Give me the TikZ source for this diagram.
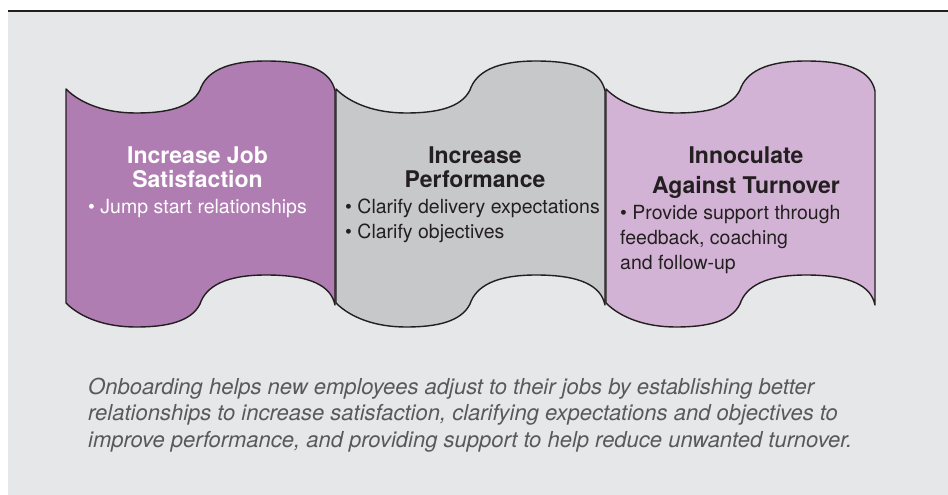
\documentclass[tikz,border=0pt]{standalone}
\usepackage{fontspec}
\setmainfont{TeX Gyre Heros}
\usetikzlibrary{positioning}

\definecolor{bggray}{RGB}{230,231,232}
\definecolor{inkdark}{RGB}{35,31,32}
\definecolor{jobpurple}{RGB}{176,125,178}
\definecolor{perfgray}{RGB}{199,200,202}
\definecolor{turnlilac}{RGB}{211,179,213}
\definecolor{captgray}{RGB}{88,89,91}

% one wavy banner, left edge at x=0
\newcommand{\bannerpath}{(0,89) .. controls (15,104) and (40,113) .. (70,113)
  .. controls (100,113) and (125,108) .. (134,90)
  .. controls (140,72) and (160,61) .. (200,61)
  .. controls (245,61) and (265,72) .. (269,91)
  -- (269,305)
  .. controls (265,286) and (245,275) .. (200,275)
  .. controls (160,275) and (140,286) .. (134,304)
  .. controls (125,322) and (100,327) .. (70,327)
  .. controls (40,327) and (15,318) .. (0,303) -- cycle}

\begin{document}
\begin{tikzpicture}[x=1pt,y=-1pt,
    banner/.style={draw=inkdark,line width=1.4pt,line join=round},
    headtext/.style={font=\fontsize{23}{24}\selectfont\bfseries,align=center,inner sep=0pt},
    bodytext/.style={font=\fontsize{19.5}{25}\selectfont,inner sep=0pt},
    capttext/.style={font=\fontsize{22}{26.5}\selectfont\itshape,text=captgray,align=left,inner sep=0pt}]
    \useasboundingbox (0,0) rectangle (948,495);
    \fill[white] (0,0) rectangle (948,495);
    \fill[bggray] (8,12) rectangle (948,495);
    \draw[inkdark,line width=2.5pt] (8,11) -- (948,11);

    \filldraw[banner,fill=jobpurple,shift={(66,0)}] \bannerpath;
    \filldraw[banner,fill=perfgray,shift={(336,0)}] \bannerpath;
    \filldraw[banner,fill=turnlilac,shift={(606,0)}] \bannerpath;

    % base anchor of a multi-line node = baseline of its last line
    \node[headtext,text=white,anchor=base] (jobhead) at (197.5,187) {Increase Job\\Satisfaction};
    \node[bodytext,text=white,anchor=base] (jobitem) at (197.5,213) {\textbullet\ Jump start relationships};

    \node[headtext,text=inkdark,anchor=base] (perfhead) at (475,187) {Increase\\Performance};
    \node[bodytext,text=inkdark,align=left,anchor=base west] (perfitem) at (345,238) {\textbullet\ Clarify delivery expectations\\\textbullet\ Clarify objectives};

    \node[headtext,text=inkdark,anchor=base] (turnhead) at (746,193) {Innoculate\\[6pt]Against Turnover};
    \node[bodytext,text=inkdark,align=left,anchor=base west] (turnitem) at (620,269) {\textbullet\ Provide support through\\feedback, coaching\\and follow-up};

    \node[capttext,anchor=base west] (caption) at (88,447) {Onboarding helps new employees adjust to their jobs by establishing better\\relationships to increase satisfaction, clarifying expectations and objectives to\\improve performance, and providing support to help reduce unwanted turnover.};
  \end{tikzpicture}
\end{document}
